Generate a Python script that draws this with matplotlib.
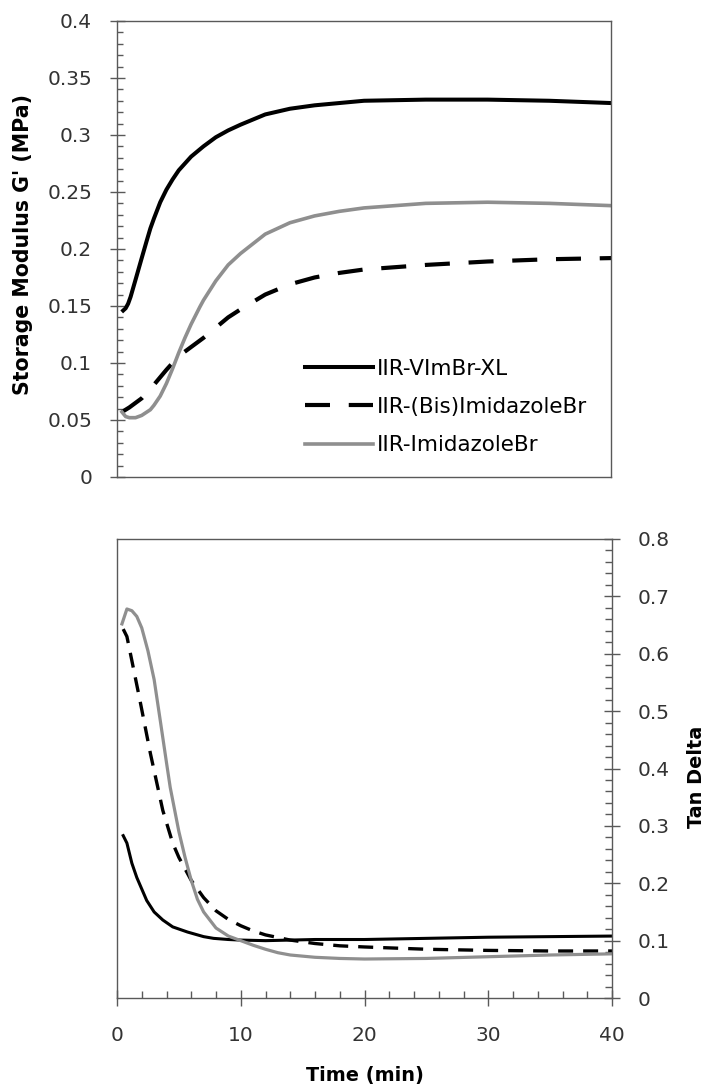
import numpy as np
import matplotlib.pyplot as plt
from matplotlib.ticker import MultipleLocator

plt.rcParams['font.family'] = ['DejaVu Sans']

# storage modulus G' (MPa) vs time (min)
t_vim = [0.5, 0.7, 0.9, 1.1, 1.5, 2, 2.4, 2.7, 3, 3.5, 4, 4.5, 5, 6, 7, 8, 9, 10, 12, 14, 16, 18, 20, 25, 30, 35, 40]
g_vim = [0.146, 0.148, 0.152, 0.158, 0.173, 0.192, 0.207, 0.218, 0.227, 0.241, 0.252, 0.261, 0.269, 0.281,
         0.290, 0.298, 0.304, 0.309, 0.318, 0.323, 0.326, 0.328, 0.330, 0.331, 0.331, 0.330, 0.328]
t_bis = [0.4, 1, 2, 3, 4, 5, 5.5, 6, 7, 8, 9, 10, 12, 14, 16, 18, 20, 25, 30, 35, 40]
g_bis = [0.057, 0.061, 0.069, 0.081, 0.094, 0.106, 0.110, 0.114, 0.122, 0.131, 0.140, 0.147, 0.160,
         0.169, 0.175, 0.179, 0.182, 0.186, 0.189, 0.191, 0.192]
t_imi = [0.4, 0.7, 1, 1.5, 2, 2.7, 3, 3.5, 4, 4.5, 5, 5.5, 6, 6.7, 7, 8, 9, 10, 12, 14, 16, 18, 20,
         25, 30, 35, 40]
g_imi = [0.057, 0.053, 0.052, 0.052, 0.054, 0.059, 0.063, 0.071, 0.082, 0.095, 0.109, 0.122, 0.134,
         0.149, 0.155, 0.172, 0.186, 0.196, 0.213, 0.223, 0.229, 0.233, 0.236, 0.240, 0.241, 0.240, 0.238]

# tan delta vs time (min)
tt_vim = [0.5, 0.8, 1.2, 1.6, 2, 2.4, 3, 3.7, 4.5, 5.7, 7, 7.8, 9, 10, 12, 14, 16, 18, 20, 25, 30, 35, 40]
td_vim = [0.283, 0.270, 0.235, 0.210, 0.190, 0.170, 0.150, 0.136, 0.124, 0.115, 0.107, 0.104, 0.102,
          0.101, 0.100, 0.101, 0.102, 0.102, 0.102, 0.104, 0.106, 0.107, 0.108]
tt_bis = [0.5, 0.8, 1.2, 1.86, 2.7, 3.7, 4.5, 5, 6, 7, 8, 9, 10, 11, 12, 14, 16, 18, 20, 25, 30, 35, 40]
td_bis = [0.643, 0.630, 0.588, 0.518, 0.426, 0.327, 0.270, 0.245, 0.205, 0.175, 0.152, 0.137, 0.126,
          0.117, 0.110, 0.101, 0.095, 0.091, 0.089, 0.085, 0.083, 0.082, 0.082]
tt_imi = [0.4, 0.8, 1.2, 1.6, 2, 2.5, 3, 3.5, 4, 4.3, 5, 5.5, 6, 6.5, 7, 8, 9, 10, 11, 12, 13, 14, 16,
          18, 20, 25, 30, 35, 40]
td_imi = [0.652, 0.678, 0.675, 0.665, 0.645, 0.605, 0.555, 0.483, 0.410, 0.367, 0.290, 0.245, 0.205,
          0.172, 0.150, 0.122, 0.108, 0.100, 0.092, 0.085, 0.079, 0.075, 0.071, 0.069, 0.068, 0.069,
          0.072, 0.075, 0.077]

labels = ['IIR-VImBr-XL', 'IIR-(Bis)ImidazoleBr', 'IIR-ImidazoleBr']
gray = '#8f8f8f'
spine_c = '#595959'
text_c = '#333333'

fig = plt.figure(figsize=(7.1, 10.86), dpi=100)
ax1 = fig.add_axes([0.1648, 0.5608, 0.6958, 0.4199])
ax2 = fig.add_axes([0.1648, 0.0810, 0.6972, 0.4227])

ax1.plot(t_vim, g_vim, color='black', lw=2.9, label=labels[0])
ax1.plot(t_bis, g_bis, color='black', lw=3.0, dashes=(6, 4.5), label=labels[1])
ax1.plot(t_imi, g_imi, color=gray, lw=2.6, label=labels[2])
ax1.set_xlim(0, 40)
ax1.set_ylim(0, 0.4)
ax1.set_xticks([])
ax1.yaxis.set_minor_locator(MultipleLocator(0.01))
ax1.set_yticks([0, 0.05, 0.1, 0.15, 0.2, 0.25, 0.3, 0.35, 0.4])
ax1.set_yticklabels(['0', '0.05', '0.1', '0.15', '0.2', '0.25', '0.3', '0.35', '0.4'])
ax1.tick_params(axis='y', which='major', direction='inout', length=10.8, width=1, color=spine_c,
                labelsize=14.5, labelcolor=text_c, pad=12.6)
ax1.tick_params(axis='y', which='minor', direction='in', length=4.3, width=1, color=spine_c)
ax1.set_ylabel("Storage Modulus G' (MPa)", fontsize=14.8, fontweight='bold', va='center')
ax1.yaxis.set_label_coords(-0.19, 0.51)
ax1.legend(loc='center left', bbox_to_anchor=(0.38, 0.1535), frameon=False, fontsize=15.5,
           borderpad=0, borderaxespad=0, handlelength=3.16, handletextpad=0.19, labelspacing=0.85)

ax2.plot(tt_vim, td_vim, color='black', lw=2.2)
ax2.plot(tt_bis, td_bis, color='black', lw=2.4, dashes=(4.5, 3))
ax2.plot(tt_imi, td_imi, color=gray, lw=2.3)
ax2.set_xlim(0, 40)
ax2.set_ylim(0, 0.8)
ax2.yaxis.tick_right()
ax2.yaxis.set_label_position('right')
ax2.set_yticks([0, 0.1, 0.2, 0.3, 0.4, 0.5, 0.6, 0.7, 0.8])
ax2.set_yticklabels(['0', '0.1', '0.2', '0.3', '0.4', '0.5', '0.6', '0.7', '0.8'])
ax2.yaxis.set_minor_locator(MultipleLocator(0.02))
ax2.xaxis.set_major_locator(MultipleLocator(10))
ax2.xaxis.set_minor_locator(MultipleLocator(2))
ax2.tick_params(which='major', direction='inout', length=11.5, width=1, color=spine_c,
                labelsize=14.5, labelcolor=text_c)
ax2.tick_params(axis='y', which='major', pad=12.6)
ax2.tick_params(axis='x', which='major', pad=14.5)
ax2.tick_params(which='minor', direction='in', length=5, width=1, color=spine_c)
ax2.set_ylabel('Tan Delta', fontsize=13.9, fontweight='bold', va='center')
ax2.yaxis.set_label_coords(1.171, 0.481)
ax2.set_xlabel('Time (min)', fontsize=13.9, fontweight='bold', va='center')
ax2.xaxis.set_label_coords(0.5, -0.168)

for ax in (ax1, ax2):
    for s in ax.spines.values():
        s.set_color(spine_c)
        s.set_linewidth(1)

fig.savefig('out.png', dpi=100)
